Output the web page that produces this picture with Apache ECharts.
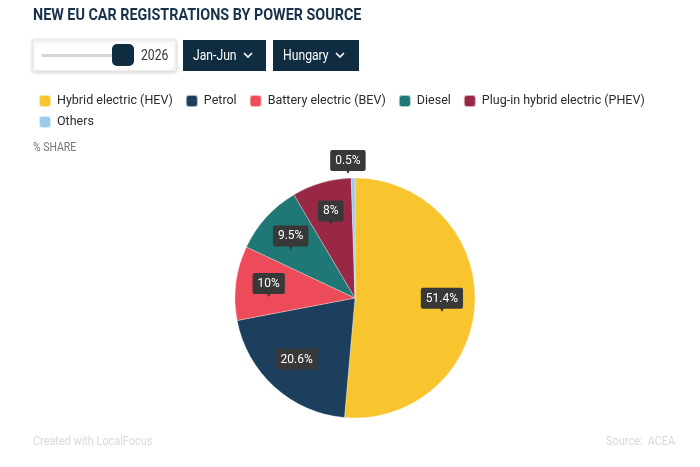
<!DOCTYPE html>
<html>
<head>
<meta charset="utf-8" />
<title>New EU car registrations</title>
<script src="https://cdn.jsdelivr.net/npm/echarts@6/dist/echarts.min.js"></script>
<style>
  html, body { margin: 0; padding: 0; background: #fff; }
</style>
</head>
<body>
<div id="main" style="width: 700px;height: 467px;"></div>
<script type="text/javascript">
    const categories = ['Hybrid electric (HEV)', 'Petrol', 'Battery electric (BEV)', 'Diesel', 'Plug-in hybrid electric (PHEV)', 'Others'];
    const shares = [51.4, 20.6, 10, 9.5, 8, 0.5];
    const palette = ['#F8C52F', '#1B3F5C', '#EE4B5A', '#1F7875', '#982845', '#9CCBEA'];

    const FONT = 'Roboto';
    const NAVY = '#0F2C40';
    const BOX = '#383838';
    const SQUEEZE = 0.87;

    const myChart = echarts.init(document.getElementById('main'));

    const pieData = categories.map((name, i) => {
        const item = { name: name, value: shares[i], itemStyle: { color: palette[i] } };
        if (name === 'Others') {
            item.label = { show: true, position: 'outside' };
            item.labelLine = { show: false, length: 14, length2: 0 };
        }
        return item;
    });

    const labelData = categories.map((name, i) => ({
        name: name,
        value: shares[i],
        label: { show: name !== 'Others' }
    }));

    const labelStyle = {
        formatter: (p) => `{box|${p.value}%}\n{arrow|▼}`,
        rich: {
            box: {
                backgroundColor: BOX,
                color: '#fff',
                fontFamily: FONT,
                fontSize: 12,
                lineHeight: 14,
                padding: [5, 5, 4, 5],
                borderRadius: 2
            },
            arrow: {
                color: BOX,
                fontFamily: 'DejaVu Sans',
                fontSize: 9,
                lineHeight: 7,
                align: 'center'
            }
        }
    };

    // condensed text for the header / footer pieces
    const txt = (x, y, text, size, color, weight) => ({
        type: 'text', x: x, y: y, scaleX: SQUEEZE,
        style: { text: text, fontFamily: FONT, fontSize: size, fontWeight: weight || 'normal', fill: color, textVerticalAlign: 'middle' }
    });

    const chevron = (x, y) => ({
        type: 'polyline',
        shape: { points: [[x, y], [x + 4, y + 4], [x + 8, y]] },
        style: { stroke: '#fff', lineWidth: 1.6, fill: null }
    });

    const option = {
        animation: false,
        textStyle: { fontFamily: FONT },
        legend: {
            data: categories,
            left: 33,
            top: 89,
            width: 630,
            itemWidth: 12,
            itemHeight: 12,
            itemGap: 7,
            icon: 'roundRect',
            selectedMode: false,
            textStyle: { fontFamily: FONT, fontSize: 12.5, lineHeight: 14, color: '#2b2b2b', padding: [0, 5, 0, 1] }
        },
        graphic: [
            txt(33, 16, 'NEW EU CAR REGISTRATIONS BY POWER SOURCE', 16.5, '#17324A', 'bold'),
            {
                type: 'rect', shape: { x: 33, y: 40, width: 143, height: 31 },
                style: { fill: '#fff', stroke: '#e6e6e6', lineWidth: 1, shadowBlur: 4, shadowColor: 'rgba(0,0,0,0.18)', shadowOffsetY: 1 }
            },
            {
                type: 'line', shape: { x1: 43, y1: 55.5, x2: 118, y2: 55.5 },
                style: { stroke: '#d4d4d4', lineWidth: 3, lineCap: 'round' }
            },
            {
                type: 'rect', shape: { x: 112, y: 44, width: 22, height: 22, r: 5 },
                style: { fill: NAVY }
            },
            txt(141, 56, '2026', 14, '#333'),
            {
                type: 'rect', shape: { x: 183, y: 40, width: 83, height: 31 },
                style: { fill: NAVY }
            },
            txt(193, 56, 'Jan-Jun', 14, '#fff'),
            chevron(244, 53),
            {
                type: 'rect', shape: { x: 273, y: 40, width: 86, height: 31 },
                style: { fill: NAVY }
            },
            txt(283, 56, 'Hungary', 14, '#fff'),
            chevron(336, 53),
            txt(33, 148, '% SHARE', 12, '#777'),
            txt(33, 442, 'Created with LocalFocus', 12.5, '#d9d9d9'),
            txt(606, 442, 'Source:  ACEA', 12.5, '#d9d9d9')
        ],
        series: [
            {
                type: 'pie',
                name: 'share',
                center: [355, 298],
                radius: [0, 120],
                startAngle: 90,
                clockwise: true,
                avoidLabelOverlap: false,
                itemStyle: { borderColor: 'rgba(255,255,255,0.6)', borderWidth: 0.5 },
                label: Object.assign({ show: false }, labelStyle),
                labelLayout: (p) => (p.dataIndex === 5 ? { align: 'center' } : {}),
                emphasis: { disabled: true },
                data: pieData
            },
            {
                type: 'pie',
                name: 'labels',
                center: [355, 298],
                radius: [0, 168],
                startAngle: 90,
                clockwise: true,
                silent: true,
                itemStyle: { color: 'rgba(0,0,0,0)' },
                label: Object.assign({ position: 'inside' }, labelStyle),
                labelLine: { show: false },
                emphasis: { disabled: true },
                data: labelData
            }
        ]
    };
    myChart.setOption(option);
</script>
</body>
</html>
